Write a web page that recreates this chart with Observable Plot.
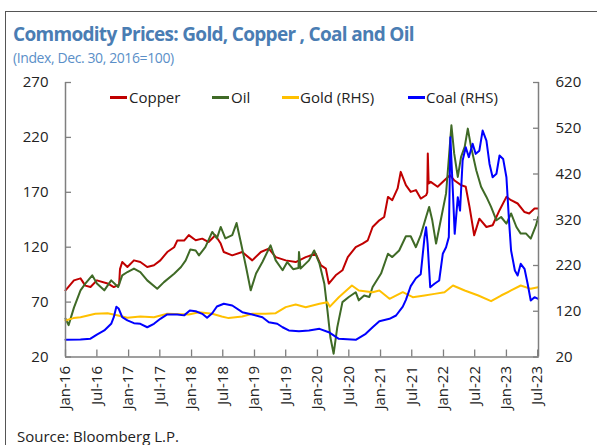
<!DOCTYPE html>
<html>
<head>
<meta charset="utf-8">
<script src="https://cdn.jsdelivr.net/npm/d3@7"></script>
<script src="https://cdn.jsdelivr.net/npm/@observablehq/plot@0.6"></script>
<style>
  html, body { margin: 0; padding: 0; background: #fff; }
  body { width: 597px; height: 445px; overflow: hidden; position: relative; font-family: "Open Sans", sans-serif; }
  #frame { position: absolute; left: 5px; top: 11px; width: 700px; height: 600px; border-top: 1.5px solid #555; border-left: 1.5px solid #555; }
  #title { position: absolute; left: 13px; top: 22px; font-size: 19px; line-height: 24px; font-weight: 700; letter-spacing: -0.7px; color: #4a7db3; white-space: nowrap; }
  #subtitle { position: absolute; left: 13px; top: 48px; font-size: 14px; line-height: 20px; letter-spacing: -0.4px; color: #5b8fc8; white-space: nowrap; }
  #chart { position: absolute; left: 0; top: 70px; }
  #legend { position: absolute; left: 0; top: 87px; width: 597px; height: 20px; font-size: 15px; line-height: 20px; color: #222; }
  .item { position: absolute; top: 0; white-space: nowrap; }
  .sw { position: absolute; top: 9px; width: 17px; height: 2.5px; }
  #source { position: absolute; left: 17px; top: 426px; font-size: 15px; line-height: 20px; color: #222; white-space: nowrap; }
</style>
</head>
<body>
<div id="frame"></div>
<div id="title">Commodity Prices: Gold, Copper , Coal and Oil</div>
<div id="subtitle">(Index, Dec. 30, 2016=100)</div>
<div id="chart"></div>
<div id="legend"></div>
<div id="source">Source: Bloomberg L.P.</div>
<script>
// ---- Data (index, Dec. 30, 2016 = 100) ----
const seriesNames = ["Copper", "Oil", "Gold (RHS)", "Coal (RHS)"];
const seriesColors = ["#c00000", "#3f6a26", "#ffc000", "#0000ff"];

const copperDates = ["2016-01-01","2016-02-19","2016-03-28","2016-04-25","2016-05-25","2016-07-01","2016-09-01","2016-10-07","2016-11-07","2016-11-12","2016-11-25","2016-12-25","2017-02-01","2017-03-10","2017-04-19","2017-05-28","2017-07-04","2017-08-13","2017-09-22","2017-10-10","2017-11-19","2017-12-16","2018-01-25","2018-03-04","2018-04-10","2018-05-19","2018-06-19","2018-07-07","2018-08-25","2018-10-22","2018-12-19","2019-02-07","2019-03-25","2019-05-04","2019-07-01","2019-08-28","2019-10-25","2019-12-22","2020-01-22","2020-02-19","2020-03-07","2020-04-16","2020-05-25","2020-06-25","2020-08-10","2020-09-19","2020-10-19","2020-11-16","2020-12-25","2021-01-22","2021-02-13","2021-03-10","2021-04-10","2021-04-28","2021-05-28","2021-06-25","2021-07-25","2021-08-22","2021-09-22","2021-09-29","2021-10-02","2021-10-07","2021-10-19","2021-11-28","2022-01-07","2022-02-07","2022-03-04","2022-04-13","2022-05-10","2022-06-01","2022-06-28","2022-07-28","2022-09-07","2022-10-13","2022-11-22","2023-01-01","2023-01-28","2023-03-07","2023-04-16","2023-05-13","2023-06-13","2023-07-04"];
const copperValues = [80.7,89.8,91.6,85,83.7,89.8,87,83.7,86,100,106.5,102,108,106.5,102,103.5,108,115.6,120,126,126,131,126.3,127.8,124.7,130.9,123.3,115.6,112.6,115.6,108,115.6,118.7,111,108,106.5,111,114,103.5,100.5,86.8,94.4,99,111,120,123.3,126.3,138.4,144.5,147.5,165.8,162.8,173.5,188.6,176.5,170.4,172,164.3,167.3,170,205.4,178,179.5,175,181,185.6,181,176.5,175,156.7,130.9,146,138.4,140,153.7,165.8,162.8,159.8,152,150.7,155.2,155.2];

const oilDates = ["2016-01-01","2016-01-19","2016-02-19","2016-03-28","2016-04-25","2016-06-04","2016-07-01","2016-08-13","2016-09-22","2016-11-01","2016-11-25","2016-12-25","2017-02-01","2017-03-10","2017-04-19","2017-06-16","2017-07-25","2017-09-22","2017-11-01","2017-11-28","2017-12-25","2018-01-25","2018-02-13","2018-03-22","2018-05-01","2018-05-28","2018-06-19","2018-07-16","2018-08-25","2018-09-19","2018-10-13","2018-11-13","2018-12-10","2019-01-10","2019-02-16","2019-04-04","2019-05-04","2019-06-13","2019-07-10","2019-08-13","2019-09-13","2019-09-16","2019-09-25","2019-11-13","2019-12-13","2020-01-13","2020-02-10","2020-02-28","2020-03-16","2020-04-04","2020-04-25","2020-05-25","2020-07-01","2020-08-10","2020-08-28","2020-09-28","2020-10-28","2020-11-16","2021-01-04","2021-02-13","2021-03-10","2021-04-19","2021-05-28","2021-06-25","2021-07-25","2021-08-22","2021-09-22","2021-10-10","2021-10-28","2021-11-19","2021-12-16","2022-01-16","2022-02-16","2022-03-04","2022-03-25","2022-04-13","2022-05-04","2022-05-22","2022-06-10","2022-07-10","2022-08-07","2022-09-07","2022-10-04","2022-11-04","2022-12-01","2023-01-01","2023-01-28","2023-02-28","2023-03-25","2023-04-25","2023-05-22","2023-06-22","2023-07-04"];
const oilValues = [55,49,65,80.7,86.8,94.4,87,80.7,89.8,83.7,94.4,97.4,100.5,97.4,89.8,82.2,88.2,95.9,102,108,118,117,112.6,120,133.9,128,138.4,128,131,142,125,102,80.7,96,106.5,121.7,108,99,106.5,100,101,115.6,100.5,108,117,105,86.8,62.4,38,23,47,70,74.6,79,71.6,76,74.6,83.7,96,114,111,117,130,130,120,131,147.5,156.7,144.5,123.3,144.5,169,231,205.4,184,202.3,211.4,228,211.4,190,175,165.8,156.7,144.5,147.5,141.5,150.7,138.4,132.4,132.4,127.8,140,147.5];

// right-hand-scale series
const goldDates = ["2016-01-01","2016-02-16","2016-03-28","2016-06-22","2016-09-01","2016-11-01","2016-12-25","2017-03-10","2017-05-28","2017-08-13","2017-12-16","2018-02-13","2018-05-01","2018-06-25","2018-08-04","2018-10-22","2018-12-19","2019-03-07","2019-05-04","2019-07-01","2019-08-28","2019-10-25","2020-01-13","2020-02-28","2020-03-13","2020-05-04","2020-07-19","2020-08-28","2020-11-16","2020-12-25","2021-02-22","2021-05-10","2021-07-07","2021-09-13","2021-11-10","2022-01-07","2022-02-25","2022-05-04","2022-07-22","2022-10-04","2022-12-01","2023-01-28","2023-03-25","2023-05-22","2023-07-04"];
const goldValues = [99.8,105,107,114.4,115.7,110.7,105.7,108.5,107,114.4,113,118,114.4,108.5,105,108.5,114.4,114.4,115.7,129,134.8,128.9,136.3,139.8,130,150.7,176.3,165.4,161.7,165.4,147.2,161.7,150.7,154.4,158,161.7,176.3,165.4,154.4,142,154.4,165.4,176.3,169,172.6];

const coalDates = ["2016-01-01","2016-03-28","2016-05-25","2016-07-01","2016-08-13","2016-09-22","2016-10-07","2016-10-22","2016-11-04","2016-11-25","2016-12-25","2017-02-01","2017-03-10","2017-04-19","2017-05-28","2017-07-04","2017-08-13","2017-10-10","2017-11-19","2017-12-22","2018-01-25","2018-03-04","2018-04-01","2018-05-01","2018-05-28","2018-07-07","2018-08-25","2018-10-22","2018-12-19","2019-02-16","2019-03-25","2019-05-13","2019-06-13","2019-07-19","2019-09-16","2019-11-13","2020-01-13","2020-03-07","2020-05-04","2020-08-10","2020-10-07","2020-11-16","2020-12-25","2021-02-22","2021-04-01","2021-05-10","2021-05-28","2021-06-25","2021-07-25","2021-08-22","2021-09-13","2021-09-22","2021-10-01","2021-10-16","2021-11-10","2021-12-07","2021-12-28","2022-01-16","2022-02-01","2022-02-10","2022-02-25","2022-03-07","2022-03-25","2022-04-07","2022-04-22","2022-05-10","2022-05-28","2022-06-19","2022-07-07","2022-07-28","2022-08-16","2022-09-07","2022-09-25","2022-10-13","2022-11-04","2022-11-22","2022-12-13","2023-01-01","2023-01-16","2023-01-28","2023-02-19","2023-03-07","2023-03-25","2023-04-16","2023-05-04","2023-05-22","2023-06-13","2023-07-04"];
const coalValues = [57.6,58,60,69,78,92.6,107,130,126,107,100,94,92.6,85,92.6,103.5,113,113,111,121.6,120,114.4,105.7,115.7,130.4,136.3,132.6,118,113,107,96,92.6,85,78,76.4,78,81.6,74.2,59.8,57.6,70.7,85.1,98.3,103.5,110.7,130,145,175,192,201,282,303.8,267.5,172.6,180,187.2,245.6,260,282,500.5,376.8,289.3,369.3,340,449.5,478.6,456.8,486,464,471,515,493,442,413,420.5,460.5,453,413,318,252.8,209,198,223.7,212.8,180,143.5,150.7,147.2];

// axis ticks
const leftTicks = [20, 70, 120, 170, 220, 270];
const rightTicks = [20, 120, 220, 320, 420, 520, 620];
const xTickDates = ["2016-01-01","2016-07-01","2017-01-01","2017-07-01","2018-01-01","2018-07-01","2019-01-01","2019-07-01","2020-01-01","2020-07-01","2021-01-01","2021-07-01","2022-01-01","2022-07-01","2023-01-01","2023-07-01"];
const xDomain = ["2016-01-01", "2023-07-06"];
const leftDomain = [20, 270];
const rightDomain = [20, 620];

// ---- build ----
const parse = d3.utcParse("%Y-%m-%d");
// map RHS values to the LHS scale (both axes share the plot frame)
const rk = (leftDomain[1] - leftDomain[0]) / (rightDomain[1] - rightDomain[0]);
const toLeft = v => leftDomain[0] + (v - rightDomain[0]) * rk;
const toRight = v => rightDomain[0] + (v - leftDomain[0]) / rk;

const mk = (dates, values, conv) => dates.map((d, i) => ({date: parse(d), v: conv ? toLeft(values[i]) : values[i]}));
const data = [
  mk(copperDates, copperValues, false),
  mk(oilDates, oilValues, false),
  mk(goldDates, goldValues, true),
  mk(coalDates, coalValues, true)
];

const fmt = d3.utcFormat("%b-%y");
const axisColor = "#7f7f7f";
const dom = xDomain.map(parse);

const chart = Plot.plot({
  width: 597,
  height: 360,
  marginLeft: 65,
  marginRight: 59,
  marginTop: 12,
  marginBottom: 73.5,
  style: {fontFamily: "'Open Sans', sans-serif", fontSize: "15px", color: "#222", background: "transparent"},
  x: {type: "utc", domain: dom},
  y: {domain: leftDomain},
  marks: [
    ...data.map((d, i) => Plot.lineY(d, {x: "date", y: "v", stroke: seriesColors[i], strokeWidth: 2, strokeLinejoin: "round"})),
    Plot.ruleY([leftDomain[0]], {stroke: axisColor, strokeWidth: 1.5}),
    Plot.ruleX(dom, {stroke: axisColor, strokeWidth: 1.5}),
    Plot.axisY(leftTicks, {anchor: "left", tickSize: -6, tickPadding: 23, stroke: axisColor, strokeWidth: 1.3, fill: "#222", label: null}),
    Plot.axisY(rightTicks.map(toLeft), {anchor: "right", tickSize: -6, tickPadding: 23, stroke: axisColor, strokeWidth: 1.3, fill: "#222", label: null, tickFormat: d => String(Math.round(toRight(d)))}),
    Plot.axisX(xTickDates.map(parse), {anchor: "bottom", tickSize: -7, tickPadding: 16, tickRotate: -90, tickFormat: fmt, stroke: axisColor, strokeWidth: 1.3, fill: "#222", label: null})
  ]
});
document.getElementById("chart").appendChild(chart);

// legend
const legendPos = [[110, 129], [212, 231], [282, 300], [408, 426]];
const lg = document.getElementById("legend");
seriesNames.forEach((name, i) => {
  const sw = document.createElement("div");
  sw.className = "sw";
  sw.style.left = legendPos[i][0] + "px";
  sw.style.background = seriesColors[i];
  lg.appendChild(sw);
  const t = document.createElement("div");
  t.className = "item";
  t.style.left = legendPos[i][1] + "px";
  t.textContent = name;
  lg.appendChild(t);
});
</script>
</body>
</html>
